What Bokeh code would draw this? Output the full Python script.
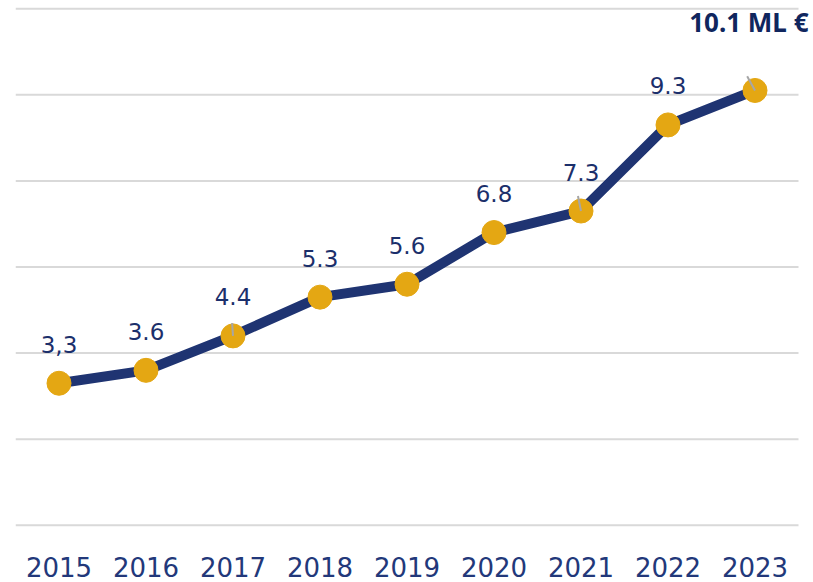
from bokeh.plotting import figure
from bokeh.models import ColumnDataSource, LabelSet, Label, FixedTicker, Range1d
from bokeh.embed import file_html
from bokeh.resources import INLINE
from bokeh.core.properties import value

years = [2015, 2016, 2017, 2018, 2019, 2020, 2021, 2022, 2023]
values = [3.3, 3.6, 4.4, 5.3, 5.6, 6.8, 7.3, 9.3, 10.1]
point_labels = ["3,3", "3.6", "4.4", "5.3", "5.6", "6.8", "7.3", "9.3", ""]
tick_labels = ["2015", "2016", "2017", "2018", "2019", "2020", "2021", "2022", "2023"]
total_label = "10.1 ML €"
y_grid = [0, 2, 4, 6, 8, 10, 12]

NAVY = "#1f3472"
GOLD = "#e4a713"
TEXT = "#1b2f6b"

src = ColumnDataSource(dict(x=years, y=values, lab=point_labels))

x_lo, x_hi = years[0] - 0.5, years[-1] + 0.5

p = figure(width=813, height=582, output_backend="svg", toolbar_location=None,
           x_range=Range1d(x_lo, x_lo + 798 / 87), y_range=Range1d(-0.05, 12.05),
           min_border_left=15, min_border_right=0, min_border_top=6, min_border_bottom=55)
p.outline_line_color = None
p.background_fill_color = "white"
p.border_fill_color = "white"

p.yaxis.visible = False
p.grid.visible = False

# horizontal gridlines spanning the category band only
p.segment(x0=[x_lo] * len(y_grid), x1=[x_hi] * len(y_grid), y0=y_grid, y1=y_grid,
          line_color="#d9d9d9", line_width=2)

p.xaxis.ticker = FixedTicker(ticks=years)
p.xaxis.major_label_overrides = {y: t for y, t in zip(years, tick_labels)}
p.xaxis.axis_line_color = None
p.xaxis.major_tick_line_color = None
p.xaxis.minor_tick_line_color = None
p.xaxis.major_label_text_font = "DejaVu Sans"
p.xaxis.major_label_text_font_size = "26px"
p.xaxis.major_label_text_color = "#22387a"
p.xaxis.major_label_standoff = 23

p.line("x", "y", source=src, line_color=NAVY, line_width=10, line_join="round")
p.scatter("x", "y", source=src, size=24, fill_color=GOLD, line_color=GOLD)

# small leader lines of the data labels
lead_idx = [2, 6, 8]
lead_dx = [-0.01, -0.035, -0.09]
lead_dy = [0.3, 0.35, 0.33]
p.segment(x0=[years[i] + d for i, d in zip(lead_idx, lead_dx)],
          y0=[values[i] + d for i, d in zip(lead_idx, lead_dy)],
          x1=[years[i] for i in lead_idx], y1=[values[i] for i in lead_idx],
          line_color="#a6a6a6", line_width=2)

labels = LabelSet(x="x", y="y", text="lab", source=src, y_offset=39,
                  text_align="center", text_baseline="middle",
                  text_font=value("DejaVu Sans"), text_font_size="23px", text_color=TEXT)
p.add_layout(labels)

title = Label(x=2023.615, y=11.7, text=total_label,
              text_align="right", text_baseline="middle",
              text_font="Noto Sans", text_font_size="26px", text_font_style="bold",
              text_color="#10265e")
p.add_layout(title)

open("out.html", "w").write(file_html(p, INLINE))
